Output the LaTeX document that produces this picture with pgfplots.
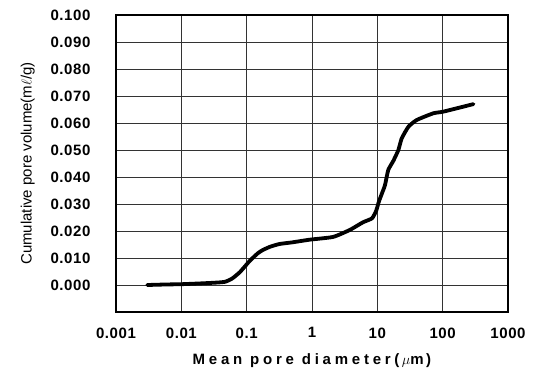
\documentclass[border=0pt]{standalone}
\usepackage{fontspec}
\setmainfont{Liberation Sans}
\usepackage{pgfplots}
\pgfplotsset{compat=1.18}
\begin{document}
\begin{tikzpicture}
\useasboundingbox (-116pt,-55pt) rectangle (418pt,312pt);
\begin{axis}[
  at={(0,0)}, anchor=south west,
  scale only axis,
  width=392pt, height=297pt,
  xmode=log, log basis x=10,
  xmin=0.001, xmax=1000,
  ymin=-0.01, ymax=0.1,
  xtick={0.001,0.01,0.1,1,10,100,1000},
  xticklabels={0.001,0.01,0.1,1,10,100,1000},
  ytick={0,0.01,...,0.1},
  yticklabel style={/pgf/number format/fixed,/pgf/number format/fixed zerofill,/pgf/number format/precision=3, xshift=-22pt},
  /pgf/number format/assume math mode=true,
  ticklabel style={font=\fontsize{15}{17}\selectfont\bfseries\addfontfeature{LetterSpace=4}},
  major tick length=0pt,
  grid=major,
  major grid style={black!80, line width=0.7pt},
  axis line style={line width=2.8pt},
  xlabel={\addfontfeature{LetterSpace=25}Mean pore diameter(\,$\mu$m\,)},
  ylabel={Cumulative pore volume(m$\ell$/g)},
  xlabel style={font=\fontsize{15}{17}\selectfont\bfseries, yshift=-9pt},
  ylabel style={font=\fontsize{15}{17}\selectfont, yshift=9pt},
  xticklabel style={yshift=-12pt},
]
\addplot[black, line width=3.8pt, line join=round, line cap=round, smooth, tension=0.3] coordinates {
(0.003,0.0000) (0.006,0.0002) (0.01,0.0003) (0.02,0.0006) (0.035,0.0009)
(0.047,0.0012) (0.06,0.0024) (0.079,0.0048) (0.112,0.0090) (0.149,0.0118)
(0.178,0.0130) (0.23,0.0142) (0.32,0.0152) (0.5,0.0158) (0.93,0.0168)
(2.1,0.0178) (3.8,0.0204) (6.0,0.0232) (8.3,0.0247) (9.6,0.0275) (10.6,0.0310)
(11.8,0.0340) (13.1,0.0370) (14.7,0.0426) (17.6,0.0460) (21,0.0500)
(23.6,0.0543) (29.9,0.0586) (40,0.0611) (72,0.0636) (102,0.0642) (296,0.0670)
};
\end{axis}
\end{tikzpicture}
\end{document}
